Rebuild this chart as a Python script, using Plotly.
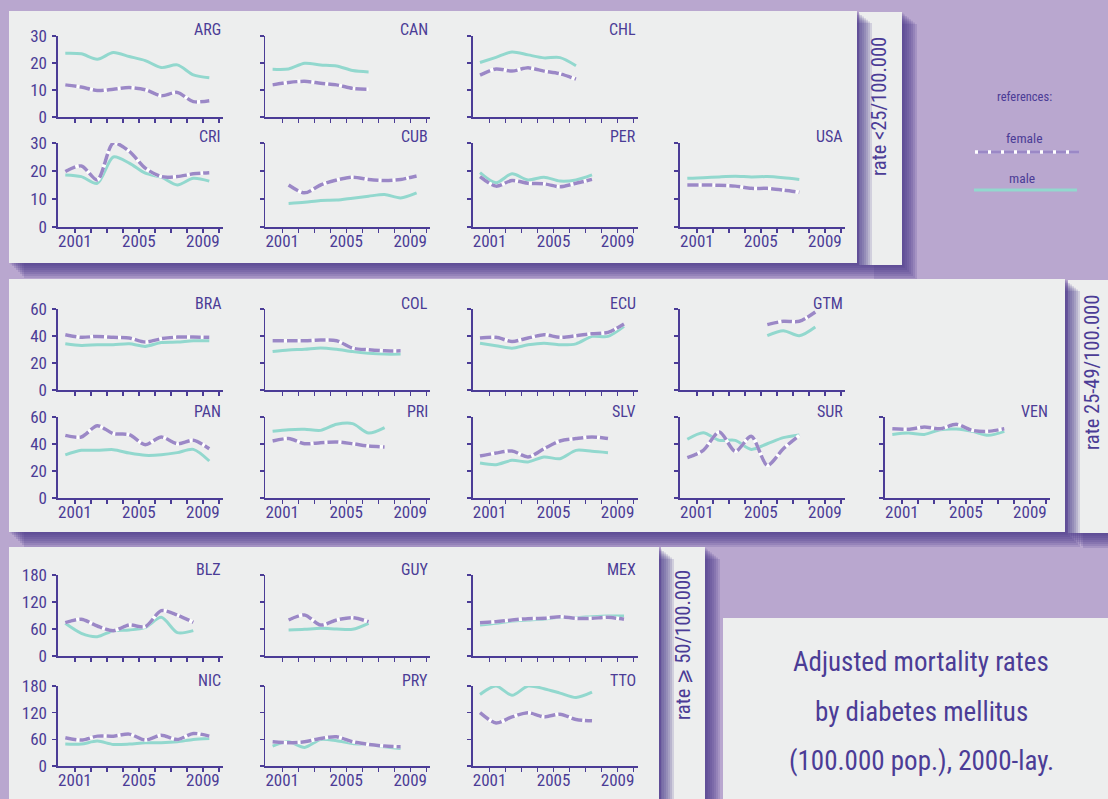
import plotly.graph_objects as go

# ---------------- data ----------------
ARG_YEARS = [2000, 2001, 2002, 2003, 2004, 2005, 2006, 2007, 2008, 2009]
ARG_MALE = [23.6, 23.4, 21.4, 23.9, 22.4, 20.9, 18.3, 19.3, 15.6, 14.5]
ARG_FEMALE = [11.9, 11.1, 9.8, 10.3, 10.9, 10.1, 7.9, 9.1, 5.7, 6.0]

CAN_YEARS = [2000, 2001, 2002, 2003, 2004, 2005, 2006]
CAN_MALE = [17.7, 17.8, 19.9, 19.3, 18.9, 17.2, 16.7]
CAN_FEMALE = [11.9, 12.8, 13.2, 12.5, 11.9, 10.6, 10.3]

CHL_YEARS = [2000, 2001, 2002, 2003, 2004, 2005, 2006]
CHL_MALE = [20.2, 22.1, 24.1, 23.0, 21.9, 22.0, 19.0]
CHL_FEMALE = [15.5, 17.8, 17.0, 18.2, 17.0, 16.0, 14.0]

CRI_YEARS = [2000, 2001, 2002, 2003, 2004, 2005, 2006, 2007, 2008, 2009]
CRI_MALE = [18.6, 18.0, 15.6, 25.0, 22.8, 19.2, 17.8, 15.0, 17.4, 16.4]
CRI_FEMALE = [19.8, 21.8, 16.8, 30.0, 27.0, 21.0, 18.0, 18.0, 19.0, 19.4]

CUB_YEARS = [2001, 2002, 2003, 2004, 2005, 2006, 2007, 2008, 2009]
CUB_MALE = [8.4, 8.8, 9.5, 9.6, 10.3, 11.0, 11.6, 10.4, 12.2]
CUB_FEMALE = [15.0, 12.2, 15.0, 16.8, 17.8, 17.0, 16.6, 17.0, 18.2]

PER_YEARS = [2000, 2001, 2002, 2003, 2004, 2005, 2006, 2007]
PER_MALE = [19.4, 15.8, 19.0, 16.8, 17.8, 16.4, 16.8, 18.6]
PER_FEMALE = [18.0, 14.6, 16.6, 15.6, 15.4, 14.4, 15.6, 17.0]

USA_YEARS = [2000, 2001, 2002, 2003, 2004, 2005, 2006, 2007]
USA_MALE = [17.4, 17.6, 17.9, 18.1, 17.9, 18.0, 17.6, 17.0]
USA_FEMALE = [15.0, 15.0, 14.9, 14.6, 13.8, 13.8, 13.2, 12.4]

BRA_YEARS = [2000, 2001, 2002, 2003, 2004, 2005, 2006, 2007, 2008, 2009]
BRA_MALE = [34.2, 33.0, 33.5, 33.5, 34.2, 32.3, 35.2, 35.5, 36.5, 36.5]
BRA_FEMALE = [40.9, 39.0, 39.7, 39.0, 38.5, 35.5, 38.0, 39.2, 39.2, 39.0]

COL_YEARS = [2000, 2001, 2002, 2003, 2004, 2005, 2006, 2007, 2008]
COL_MALE = [28.5, 29.7, 30.2, 31.2, 30.2, 28.5, 27.3, 26.6, 26.6]
COL_FEMALE = [36.5, 36.5, 36.5, 37.0, 36.5, 31.0, 29.8, 29.0, 29.0]

ECU_YEARS = [2000, 2001, 2002, 2003, 2004, 2005, 2006, 2007, 2008, 2009]
ECU_MALE = [34.7, 32.8, 31.0, 33.5, 34.7, 33.5, 34.2, 39.7, 39.7, 47.1]
ECU_FEMALE = [38.5, 39.0, 36.0, 38.5, 40.9, 39.0, 40.2, 41.7, 42.7, 48.9]

GTM_YEARS = [2005, 2006, 2007, 2008]
GTM_MALE = [40.2, 43.9, 40.2, 46.7]
GTM_FEMALE = [48.4, 50.9, 50.9, 57.8]

PAN_YEARS = [2000, 2001, 2002, 2003, 2004, 2005, 2006, 2007, 2008, 2009]
PAN_MALE = [32.0, 35.3, 35.3, 35.8, 33.3, 31.6, 32.0, 33.6, 36.0, 27.4]
PAN_FEMALE = [46.4, 45.2, 53.6, 47.7, 46.9, 39.5, 45.2, 40.2, 42.7, 36.5]

PRI_YEARS = [2000, 2001, 2002, 2003, 2004, 2005, 2006, 2007]
PRI_MALE = [49.4, 50.6, 50.9, 50.1, 54.6, 55.1, 48.1, 52.1]
PRI_FEMALE = [42.2, 44.0, 40.2, 41.0, 41.5, 40.2, 38.5, 37.8]

SLV_YEARS = [2000, 2001, 2002, 2003, 2004, 2005, 2006, 2007, 2008]
SLV_MALE = [25.9, 24.7, 27.9, 26.7, 30.4, 29.1, 35.3, 34.6, 33.6]
SLV_FEMALE = [31.1, 33.3, 34.8, 30.4, 36.5, 42.2, 44.0, 45.2, 44.0]

SUR_YEARS = [2000, 2001, 2002, 2003, 2004, 2005, 2006, 2007]
SUR_MALE = [43.5, 48.4, 42.7, 42.7, 36.0, 40.2, 44.7, 46.7]
SUR_FEMALE = [29.9, 35.3, 48.9, 34.6, 45.7, 24.2, 36.5, 46.4]

VEN_YEARS = [2000, 2001, 2002, 2003, 2004, 2005, 2006, 2007]
VEN_MALE = [47.1, 48.1, 47.1, 50.6, 51.1, 49.4, 46.4, 49.4]
VEN_FEMALE = [51.3, 50.9, 52.6, 51.3, 54.6, 50.1, 49.4, 51.3]

BLZ_YEARS = [2000, 2001, 2002, 2003, 2004, 2005, 2006, 2007, 2008]
BLZ_MALE = [72.6, 50.4, 43.0, 56.3, 57.8, 63.7, 85.9, 51.9, 56.3]
BLZ_FEMALE = [74.0, 81.5, 66.7, 56.3, 68.9, 65.2, 100.7, 91.1, 74.8]

GUY_YEARS = [2001, 2002, 2003, 2004, 2005, 2006]
GUY_MALE = [57.8, 59.3, 61.5, 60.0, 59.3, 72.6]
GUY_FEMALE = [80.0, 91.1, 68.9, 80.0, 85.2, 76.3]

MEX_YEARS = [2000, 2001, 2002, 2003, 2004, 2005, 2006, 2007, 2008, 2009]
MEX_MALE = [68.9, 72.6, 77.8, 80.0, 82.2, 85.9, 85.2, 87.4, 88.9, 88.9]
MEX_FEMALE = [74.0, 76.3, 80.0, 83.0, 83.7, 87.4, 83.7, 83.7, 85.9, 81.5]

NIC_YEARS = [2000, 2001, 2002, 2003, 2004, 2005, 2006, 2007, 2008, 2009]
NIC_MALE = [49.3, 49.3, 56.0, 48.5, 49.3, 52.3, 52.3, 54.5, 59.7, 62.0]
NIC_FEMALE = [63.5, 58.3, 67.2, 67.2, 71.7, 58.3, 69.4, 59.7, 73.2, 67.2]

PRY_YEARS = [2000, 2001, 2002, 2003, 2004, 2005, 2006, 2007, 2008]
PRY_MALE = [44.8, 54.5, 41.8, 59.7, 56.8, 50.8, 48.5, 43.3, 39.6]
PRY_FEMALE = [54.5, 52.3, 54.5, 61.9, 65.7, 54.5, 48.5, 44.8, 43.3]

TTO_YEARS = [2000, 2001, 2002, 2003, 2004, 2005, 2006, 2007]
TTO_MALE = [161, 180, 159, 180, 174, 164, 154, 166]
TTO_FEMALE = [120, 97, 110.5, 120, 110.5, 116.5, 104.6, 101.6]

TICK_LABELS = ["2001", "", "", "", "2005", "", "", "", "2009", ""]
GROUP_LABELS = ["rate <25/100.000", "rate 25-49/100.000", "rate \u2a7e 50/100.000"]
GROUP_YMAX = [30, 60, 180]
GROUP_DTICK = [10, 20, 60]
TITLE_LINES = ["Adjusted mortality rates", "by diabetes mellitus", "(100.000 pop.), 2000-lay."]
LEGEND_TITLE = "references:"
LEGEND_FEMALE = "female"
LEGEND_MALE = "male"

SERIES = {
    "ARG": (ARG_YEARS, ARG_MALE, ARG_FEMALE), "CAN": (CAN_YEARS, CAN_MALE, CAN_FEMALE),
    "CHL": (CHL_YEARS, CHL_MALE, CHL_FEMALE), "CRI": (CRI_YEARS, CRI_MALE, CRI_FEMALE),
    "CUB": (CUB_YEARS, CUB_MALE, CUB_FEMALE), "PER": (PER_YEARS, PER_MALE, PER_FEMALE),
    "USA": (USA_YEARS, USA_MALE, USA_FEMALE), "BRA": (BRA_YEARS, BRA_MALE, BRA_FEMALE),
    "COL": (COL_YEARS, COL_MALE, COL_FEMALE), "ECU": (ECU_YEARS, ECU_MALE, ECU_FEMALE),
    "GTM": (GTM_YEARS, GTM_MALE, GTM_FEMALE), "PAN": (PAN_YEARS, PAN_MALE, PAN_FEMALE),
    "PRI": (PRI_YEARS, PRI_MALE, PRI_FEMALE), "SLV": (SLV_YEARS, SLV_MALE, SLV_FEMALE),
    "SUR": (SUR_YEARS, SUR_MALE, SUR_FEMALE), "VEN": (VEN_YEARS, VEN_MALE, VEN_FEMALE),
    "BLZ": (BLZ_YEARS, BLZ_MALE, BLZ_FEMALE), "GUY": (GUY_YEARS, GUY_MALE, GUY_FEMALE),
    "MEX": (MEX_YEARS, MEX_MALE, MEX_FEMALE), "NIC": (NIC_YEARS, NIC_MALE, NIC_FEMALE),
    "PRY": (PRY_YEARS, PRY_MALE, PRY_FEMALE), "TTO": (TTO_YEARS, TTO_MALE, TTO_FEMALE),
}

# ---------------- layout / style ----------------
W, H = 1108, 799
FONT = "Roboto Condensed, Liberation Sans Narrow, DejaVu Sans Condensed, sans-serif"
INK = "#4b3c96"
BG = "#b9a7cf"
PANEL = "#edeeee"
SHADOW = "#4a358a"
MALE_C = "#92d8ce"
FEMALE_C = "#9b88c6"

# (code, group, row, col)
SLOTS = [
    ("ARG", 0, 0, 0), ("CAN", 0, 0, 1), ("CHL", 0, 0, 2),
    ("CRI", 0, 1, 0), ("CUB", 0, 1, 1), ("PER", 0, 1, 2), ("USA", 0, 1, 3),
    ("BRA", 1, 0, 0), ("COL", 1, 0, 1), ("ECU", 1, 0, 2), ("GTM", 1, 0, 3),
    ("PAN", 1, 1, 0), ("PRI", 1, 1, 1), ("SLV", 1, 1, 2), ("SUR", 1, 1, 3), ("VEN", 1, 1, 4),
    ("BLZ", 2, 0, 0), ("GUY", 2, 0, 1), ("MEX", 2, 0, 2),
    ("NIC", 2, 1, 0), ("PRY", 2, 1, 1), ("TTO", 2, 1, 2),
]
COL_X = [58, 265.3, 472.7, 680, 885]
COL_W = 165
ROW_Y = {(0, 0): (36, 117), (0, 1): (143, 227), (1, 0): (309, 390), (1, 1): (417, 498),
         (2, 0): (575, 656), (2, 1): (686, 766)}
X_RANGE = [1999.544, 2009.856]
TICK_POS = [2000.6 + i for i in range(10)]


def px(x):
    return x / W


def py(y):
    return 1 - y / H


fig = go.Figure()
shapes = []
annotations = []


def rect(x0, y0, x1, y1, color, opacity=1.0):
    shapes.append(dict(type="rect", xref="paper", yref="paper", x0=px(x0), x1=px(x1),
                       y0=py(y1), y1=py(y0), fillcolor=color, opacity=opacity,
                       line=dict(width=0), layer="below"))


def shadowed(x0, y0, x1, y1, color=PANEL):
    for d in [15, 13, 11, 9, 7, 5, 3, 1.5]:
        rect(x0 + d, y0 + d * 0.8, x1 + d, y1 + d, SHADOW, 0.17)
    rect(x0, y0, x1, y1, color)


def text(x, y, s, size, **kw):
    annotations.append(dict(xref="paper", yref="paper", x=px(x), y=py(y), showarrow=False,
                            text=s, xanchor=kw.pop("xanchor", "center"),
                            yanchor=kw.pop("yanchor", "middle"),
                            font=dict(family=FONT, size=size, color=INK), **kw))


# panels: side strips first, then main panels (which cast shadows onto the strips)
shadowed(859, 12, 902, 265)
shadowed(9, 11, 857, 263)
shadowed(1068, 280, 1120, 533)
shadowed(9, 279, 1065, 532)
shadowed(661, 547, 705, 810)
shadowed(9, 547, 659, 810)
shadowed(723, 618, 1120, 810)

for i, (code, g, r, c) in enumerate(SLOTS, start=1):
    xs, male, female = SERIES[code]
    xa = "x" if i == 1 else f"x{i}"
    ya = "y" if i == 1 else f"y{i}"
    fig.add_trace(go.Scatter(x=xs, y=male, mode="lines", xaxis=xa, yaxis=ya,
                             line=dict(color=MALE_C, width=3, shape="spline", smoothing=0.8),
                             showlegend=False, hoverinfo="skip"))
    fig.add_trace(go.Scatter(x=xs, y=female, mode="lines", xaxis=xa, yaxis=ya,
                             line=dict(color="white", width=3.5, shape="spline", smoothing=0.8),
                             showlegend=False, hoverinfo="skip"))
    fig.add_trace(go.Scatter(x=xs, y=female, mode="lines", xaxis=xa, yaxis=ya,
                             line=dict(color=FEMALE_C, width=3.5, shape="spline", smoothing=0.8,
                                       dash="11px,3px"),
                             showlegend=False, hoverinfo="skip"))
    x0 = COL_X[c]
    y0, y1 = ROW_Y[(g, r)]
    ymax = GROUP_YMAX[g]
    dt = GROUP_DTICK[g]
    xkey = "xaxis" if i == 1 else f"xaxis{i}"
    ykey = "yaxis" if i == 1 else f"yaxis{i}"
    fig.layout[xkey] = dict(domain=[px(x0), px(x0 + COL_W)], anchor=ya, range=X_RANGE,
                            showgrid=False, zeroline=False, showline=True, linecolor=INK,
                            linewidth=1.6, ticks="outside", ticklen=4, tickwidth=1.2,
                            tickcolor=INK, tickvals=TICK_POS, ticktext=TICK_LABELS,
                            showticklabels=(r == 1), ticklabelstandoff=-6,
                            tickfont=dict(family=FONT, size=17, color=INK), fixedrange=True)
    fig.layout[ykey] = dict(domain=[py(y1), py(y0)], anchor=xa, range=[0, ymax],
                            showgrid=False, zeroline=False, showline=True, linecolor=INK,
                            linewidth=1.6, ticks="outside", ticklen=4, tickwidth=1.2,
                            tickcolor=INK, tickvals=[0, dt, 2 * dt, 3 * dt],
                            showticklabels=(c == 0), ticklabelstandoff=2,
                            tickfont=dict(family=FONT, size=17, color=INK), fixedrange=True)
    text(x0 + COL_W, y0 - 6, code, 16, xanchor="right")

# side strip labels
for (cx, cy), label in zip([(879, 107), (1092, 373), (683, 645)], GROUP_LABELS):
    text(cx, cy, label, 20.5, textangle=-90)

# legend
text(1024, 96, LEGEND_TITLE, 12.5)
text(1024, 138, LEGEND_FEMALE, 13.5)
text(1022, 178, LEGEND_MALE, 13.5)
shapes.append(dict(type="line", xref="paper", yref="paper", x0=px(975), x1=px(1079),
                   y0=py(152), y1=py(152), line=dict(color="white", width=3.4)))
shapes.append(dict(type="line", xref="paper", yref="paper", x0=px(978), x1=px(1079),
                   y0=py(152), y1=py(152), line=dict(color=FEMALE_C, width=3.4, dash="10px,3px")))
shapes.append(dict(type="line", xref="paper", yref="paper", x0=px(974), x1=px(1077),
                   y0=py(190), y1=py(190), line=dict(color=MALE_C, width=3)))

# title
for yy, line in zip([662, 712, 761], TITLE_LINES):
    text(921, yy, line, 27)

fig.update_layout(width=W, height=H, margin=dict(l=0, r=0, t=0, b=0, autoexpand=False),
                  paper_bgcolor=BG, plot_bgcolor="rgba(0,0,0,0)", showlegend=False,
                  shapes=shapes, annotations=annotations)
fig.write_html("out.html", config={"displayModeBar": False, "staticPlot": True},
               post_script="document.body.style.margin='0px';document.body.style.overflow='hidden';")
